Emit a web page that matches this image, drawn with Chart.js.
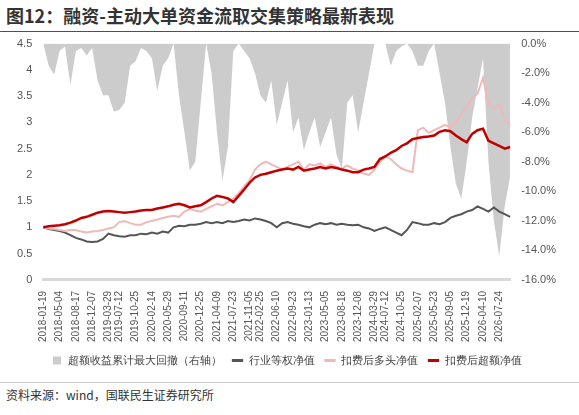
<!DOCTYPE html>
<html>
<head>
<meta charset="utf-8">
<script src="https://cdn.jsdelivr.net/npm/chart.js@4"></script>
<style>
  body { margin: 0; width: 579px; height: 415px; background: #fff; font-family: "Noto Sans CJK SC", "Noto Sans", sans-serif; position: relative; overflow: hidden; }
  #title { position: absolute; left: 6px; top: 2px; font-size: 18px; font-weight: bold; color: #333; }
  #titleLine { position: absolute; left: 0; top: 31px; width: 579px; height: 1px; background: #b22; }
  #wrap { position: absolute; left: 0; top: 34px; width: 579px; height: 342px; }
  #srcLine { position: absolute; left: 0; top: 382px; width: 579px; height: 1px; background: #ccc; }
  #src { position: absolute; left: 6px; top: 386px; font-size: 12px; color: #333; }
</style>
</head>
<body>
<div id="title">图12：融资-主动大单资金流取交集策略最新表现</div>
<div id="titleLine"></div>
<div id="wrap"><canvas id="c"></canvas></div>
<div id="srcLine"></div>
<div id="src">资料来源：wind，国联民生证券研究所</div>
<script>
    // tick labels
    const tickDates = ["2018-01-19","2018-05-04","2018-08-17","2018-12-07","2019-03-29","2019-07-12","2019-10-25",
        "2020-02-14","2020-05-29","2020-09-11","2020-12-25","2021-04-09","2021-07-23","2021-11-05","2022-02-25",
        "2022-06-10","2022-09-23","2023-01-13","2023-05-05","2023-08-18","2023-12-08","2024-03-29","2024-07-12",
        "2024-10-25","2025-02-07","2025-05-23","2025-09-05","2025-12-19","2026-04-10","2026-07-24"];

    // 超额净值
    const excessNav = [1.0,1.02,1.03,1.04,1.06,1.09, 1.13,1.18,1.2,1.24,1.28, 1.3,1.31,1.3,1.29,1.28,
        1.29,1.3,1.32,1.33,1.33, 1.36,1.38,1.4,1.43,1.45, 1.42,1.38,1.4,1.42,1.48, 1.55,1.6,1.58,1.55,1.48,
        1.6,1.72,1.85,1.95,2.0, 2.02,2.05,2.08,2.1,2.12, 2.1,2.15,2.08,2.1,2.12, 2.15,2.12,2.15,2.13,2.1,
        2.08,2.05,2.05,2.1,2.12, 2.15,2.3,2.35,2.42,2.47, 2.55,2.6,2.68,2.7,2.72, 2.73,2.75,2.82,2.85,2.83,
        2.75,2.68,2.62,2.78,2.85, 2.88,2.65,2.6,2.55,2.5,2.53];

    // 多头净值
    const longNav = [1.0,0.98,0.97,0.95,0.93,0.95, 0.95,0.92,0.9,0.92,0.93, 0.95,0.98,1.0,1.1,1.12,
        1.08,1.05,1.05,1.1,1.12, 1.15,1.18,1.2,1.22,1.2, 1.3,1.35,1.32,1.3,1.35, 1.4,1.45,1.42,1.48,1.55,
        1.65,1.78,1.9,2.1,2.2, 2.25,2.2,2.15,2.1,2.15, 2.2,2.25,2.1,2.2,2.18, 2.22,2.15,2.2,2.15,2.12,
        2.18,2.12,2.08,2.02,2.0, 2.1,2.25,2.35,2.3,2.2, 2.12,2.08,2.05,2.85,2.9, 2.8,2.85,2.9,2.95,2.9,
        3.0,3.15,3.3,3.45,3.55, 3.85,3.35,3.25,3.35,3.05,2.95];

    // 行业等权净值
    const industryNav = [1.0,0.97,0.95,0.93,0.9,0.85, 0.8,0.77,0.73,0.72,0.73, 0.78,0.88,0.85,0.83,0.82,
        0.85,0.85,0.88,0.87,0.9, 0.88,0.92,0.9,1.0,1.03, 1.02,1.05,1.05,1.07,1.1, 1.08,1.1,1.08,1.12,1.1,
        1.12,1.15,1.13,1.17,1.15, 1.12,1.08,1.0,1.08,1.1, 1.07,1.05,1.02,1.0,1.05, 1.08,1.06,1.08,1.05,1.07,
        1.05,1.04,1.05,1.0,0.98, 0.93,0.97,1.0,0.95,0.9, 0.85,0.95,1.1,1.08,1.05, 1.05,1.08,1.06,1.1,1.18,
        1.22,1.25,1.3,1.33,1.4, 1.35,1.3,1.38,1.3,1.25,1.2];

    // 超额收益累计最大回撤 (%)
    const drawdown = [0,-1.5,-2.1,-0.5,-0.2,-2.8, -0.5,-0.3,-0.8,-0.3,-2.5, -3.5,-3.5,-4.6,-4.5,-4.0,
        -1.5,-1.2,-0.3,-0.5,-1.0, -3.2,-1.5,-1.0,0,-3.5, -6,-8.6,-8.0,-4,0, -2,-6,-9.3,-7.0,-0.5,
        0,-0.5,-1.0,-2,-3.5, -4,-2.5,-5.5,-4,-2.5, -6,-5,-7.2,-6,-5, -7,-6,-5,-7.5,-8.5,
        -4,-3.5,-6,-4,-2, 0,0,0,-1.5,-0.5, -0.2,0,-0.5,-1.5,-1.5, -0.5,0,-2,-4,-7,
        -9.5,-10.5,-8,-5,-3, -1,-8,-12,-14.4,-11,-9];

    // the series runs a little past the last tick label
    const step = (excessNav.length - 1) / (tickDates.length - 1 + 0.8);
    const labels = excessNav.map(function () { return ''; });
    tickDates.forEach(function (d, k) {
        labels[Math.round(k * step)] = d;
    });

    new Chart(document.getElementById('c'), {
        data: {
            labels: labels,
            datasets: [
                {
                    type: 'line', label: '超额收益累计最大回撤（右轴）', data: drawdown, yAxisID: 'y1',
                    backgroundColor: '#cccccc', borderWidth: 0, pointRadius: 0, fill: 'end', tension: 0, order: 4
                },
                {
                    type: 'line', label: '行业等权净值', data: industryNav, yAxisID: 'y',
                    borderColor: '#555555', backgroundColor: '#555555', borderWidth: 2, pointRadius: 0, order: 3
                },
                {
                    type: 'line', label: '扣费后多头净值', data: longNav, yAxisID: 'y',
                    borderColor: '#f0b8b8', backgroundColor: '#f0b8b8', borderWidth: 2, pointRadius: 0, order: 2
                },
                {
                    type: 'line', label: '扣费后超额净值', data: excessNav, yAxisID: 'y',
                    borderColor: '#c00000', backgroundColor: '#c00000', borderWidth: 2.5, pointRadius: 0, order: 1
                }
            ]
        },
        options: {
            responsive: true, maintainAspectRatio: false, animation: false,
            layout: { padding: { left: 14, right: 20, top: 6 } },
            plugins: {
                legend: {
                    position: 'bottom',
                    labels: {
                        usePointStyle: true, boxWidth: 24, boxHeight: 8, font: { size: 11 }, color: '#444',
                        generateLabels: function (chart) {
                            return chart.data.datasets.map(function (d, i) {
                                return {
                                    text: d.label, datasetIndex: i,
                                    fillStyle: d.backgroundColor, strokeStyle: i === 0 ? d.backgroundColor : d.borderColor,
                                    lineWidth: i === 0 ? 0 : 3, pointStyle: i === 0 ? 'rect' : 'line', fontColor: '#444'
                                };
                            });
                        }
                    }
                },
                tooltip: { enabled: false }
            },
            scales: {
                x: {
                    grid: { display: false },
                    border: { color: '#d9d9d9', width: 3 },
                    ticks: { autoSkip: false, maxRotation: 90, minRotation: 90, font: { size: 10 }, color: '#555' }
                },
                y: {
                    position: 'left', min: 0, max: 4.5,
                    grid: { display: false }, border: { display: false },
                    ticks: { stepSize: 0.5, font: { size: 11 }, color: '#555', callback: function (v) { return v; } }
                },
                y1: {
                    position: 'right', min: -16, max: 0,
                    grid: { display: false }, border: { display: false },
                    ticks: { stepSize: 2, font: { size: 11 }, color: '#555', callback: function (v) { return v.toFixed(1) + '%'; } }
                }
            }
        }
    });
</script>
</body>
</html>
